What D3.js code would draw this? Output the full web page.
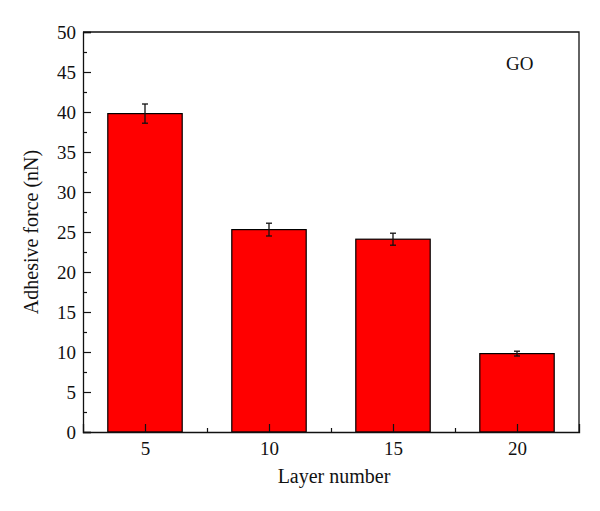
<!DOCTYPE html>
<html>
<head>
<meta charset="utf-8">
<script src="https://cdn.jsdelivr.net/npm/d3@7"></script>
<style>
  body { margin: 0; background: #fff; }
  svg text { font-family: "Liberation Serif", "DejaVu Serif", serif; fill: #111; }
</style>
</head>
<body>
<div id="chart"></div>
<script>
// data
const layers = [5, 10, 15, 20];
const force = [39.8, 25.3, 24.1, 9.8];
const forceErr = [1.2, 0.8, 0.75, 0.3];
const yTicks = [0, 5, 10, 15, 20, 25, 30, 35, 40, 45, 50];
const yMinor = [2.5, 7.5, 12.5, 17.5, 22.5, 27.5, 32.5, 37.5, 42.5, 47.5];
const xMinor = [7.5, 12.5, 17.5];

const W = 600, H = 511;
const margin = { top: 32, right: 21, bottom: 79, left: 83 };
const w = W - margin.left - margin.right;
const h = H - margin.top - margin.bottom;

const xScale = d3.scaleLinear().domain([2.5, 22.5]).range([0, w]);
const yScale = d3.scaleLinear().domain([0, 50]).range([h, 0]);
const barW = xScale(3) - xScale(0);

const svg = d3.select('#chart').append('svg')
  .attr('width', W)
  .attr('height', H);

const g = svg.append('g')
  .attr('transform', `translate(${margin.left},${margin.top})`);

// bars
g.selectAll('rect.bar')
  .data(layers)
  .enter().append('rect')
  .attr('class', 'bar')
  .attr('x', (d) => xScale(d) - barW / 2)
  .attr('y', (d, i) => yScale(force[i]))
  .attr('width', barW)
  .attr('height', (d, i) => h - yScale(force[i]))
  .attr('fill', '#ff0000')
  .attr('stroke', '#000')
  .attr('stroke-width', 1.2);

// error bars
const err = g.selectAll('g.err')
  .data(layers)
  .enter().append('g')
  .attr('class', 'err')
  .attr('stroke', '#111')
  .attr('stroke-width', 1.3);

err.append('line')
  .attr('x1', (d) => xScale(d)).attr('x2', (d) => xScale(d))
  .attr('y1', (d, i) => yScale(force[i] + forceErr[i]))
  .attr('y2', (d, i) => yScale(force[i] - forceErr[i]));
err.append('line')
  .attr('x1', (d) => xScale(d) - 3).attr('x2', (d) => xScale(d) + 3)
  .attr('y1', (d, i) => yScale(force[i] + forceErr[i]))
  .attr('y2', (d, i) => yScale(force[i] + forceErr[i]));
err.append('line')
  .attr('x1', (d) => xScale(d) - 3).attr('x2', (d) => xScale(d) + 3)
  .attr('y1', (d, i) => yScale(force[i] - forceErr[i]))
  .attr('y2', (d, i) => yScale(force[i] - forceErr[i]));

// left axis, ticks pointing inward
const leftAxis = g.append('g')
  .call(d3.axisLeft(yScale).tickValues(yTicks).tickSize(-8).tickPadding(8));
leftAxis.selectAll('.tick text').attr('x', -7).attr('font-size', 19);

const leftMinor = g.append('g')
  .call(d3.axisLeft(yScale).tickValues(yMinor).tickSize(-4).tickFormat(''));
leftMinor.select('.domain').remove();

// bottom axis
const bottomAxis = g.append('g')
  .attr('transform', `translate(0,${h})`)
  .call(d3.axisBottom(xScale).tickValues(layers).tickSize(-8));
bottomAxis.selectAll('.tick text').attr('y', 10).attr('font-size', 19);

const bottomMinor = g.append('g')
  .attr('transform', `translate(0,${h})`)
  .call(d3.axisBottom(xScale).tickValues(xMinor).tickSize(-4).tickFormat(''));
bottomMinor.select('.domain').remove();

g.selectAll('.domain').attr('stroke', '#111').attr('stroke-width', 1.3);
g.selectAll('.tick line').attr('stroke', '#111').attr('stroke-width', 1.2);

// top and right frame
g.append('path')
  .attr('d', `M0,0H${w}V${h}`)
  .attr('fill', 'none')
  .attr('stroke', '#111')
  .attr('stroke-width', 1.3);

// labels
g.append('text')
  .attr('x', w / 2 + 3)
  .attr('y', h + 51)
  .attr('text-anchor', 'middle')
  .attr('font-size', 20)
  .text('Layer number');

svg.append('text')
  .attr('transform', `translate(38,${margin.top + h / 2}) rotate(-90)`)
  .attr('text-anchor', 'middle')
  .attr('font-size', 20)
  .text('Adhesive force (nN)');

g.append('text')
  .attr('x', 423)
  .attr('y', 38)
  .attr('font-size', 19)
  .text('GO');
</script>
</body>
</html>
